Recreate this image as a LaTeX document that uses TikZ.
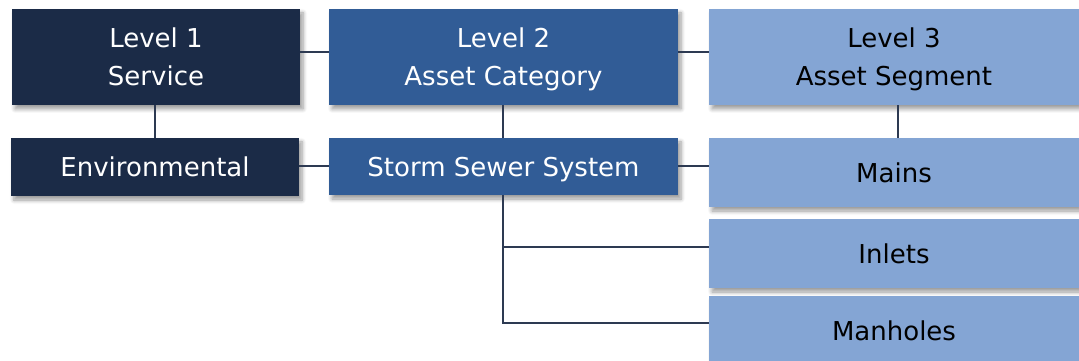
\documentclass[tikz,border=0pt]{standalone}
\usepackage{fontspec}
\setmainfont{DejaVu Sans}
\usetikzlibrary{shadows.blur}
\definecolor{cone}{RGB}{27,43,71}
\definecolor{ctwo}{RGB}{49,92,150}
\definecolor{cthree}{RGB}{132,165,212}
\definecolor{cline}{RGB}{45,58,82}
\tikzset{
  box/.style={draw=none, inner sep=0pt, text depth=0pt, font=\fontsize{26}{38}\selectfont, align=center,
    blur shadow={shadow xshift=3pt, shadow yshift=-4pt, shadow blur steps=6, shadow blur radius=4pt, shadow opacity=40}},
  lone/.style={box, fill=cone, text=white},
  ltwo/.style={box, fill=ctwo, text=white},
  lthree/.style={box, fill=cthree, text=black},
  conn/.style={draw=cline, line width=1.4pt}
}
\begin{document}
\begin{tikzpicture}[x=1pt,y=1pt]
\useasboundingbox (0,0) rectangle (1079,360);
\coordinate (c1) at (503,{360-247});
\coordinate (c2) at (503,{360-323});
% boxes
\node[lone, minimum width=288pt, minimum height=96pt] (l1) at (156,{360-57}) {Level 1\\Service};
\node[ltwo, minimum width=349pt, minimum height=96pt] (l2) at (503.5,{360-57}) {Level 2\\Asset Category};
\node[lthree, minimum width=370pt, minimum height=96pt] (l3) at (894,{360-57}) {Level 3\\Asset Segment};
\node[lone, minimum width=288pt, minimum height=58pt] (env) at (155,{360-167}) {Environmental};
\node[ltwo, minimum width=349pt, minimum height=57pt] (ss) at (503.5,{360-166.5}) {Storm Sewer System};
\node[lthree, minimum width=370pt, minimum height=69pt] (mains) at (894,{360-172.5}) {Mains};
\node[lthree, minimum width=370pt, minimum height=69pt] (inlets) at (894,{360-253.5}) {Inlets};
\node[lthree, minimum width=370pt, minimum height=69pt] (manholes) at (894,{360-330.5}) {Manholes};
% connectors
\draw[conn] (l1.east |- 0,{360-52}) -- (l2.west |- 0,{360-52});
\draw[conn] (l2.east |- 0,{360-52}) -- (l3.west |- 0,{360-52});
\draw[conn] (l1.south -| 155,0) -- (env.north -| 155,0);
\draw[conn] (l2.south -| 503,0) -- (ss.north -| 503,0);
\draw[conn] (l3.south -| 898,0) -- (mains.north -| 898,0);
\draw[conn] (env.east |- 0,{360-166}) -- (ss.west |- 0,{360-166});
\draw[conn] (ss.east |- 0,{360-166}) -- (mains.west |- 0,{360-166});
\draw[conn] (ss.south -| 503,0) -- (c2) -- (manholes.west |- c2);
\draw[conn] (c1) -- (inlets.west |- c1);
\end{tikzpicture}
\end{document}
